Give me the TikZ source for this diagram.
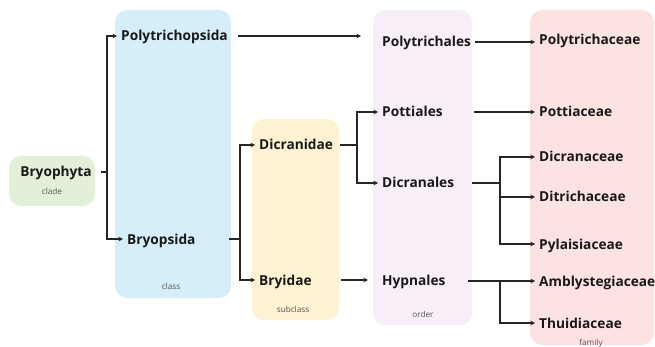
\documentclass[tikz,border=0pt]{standalone}
\usepackage{fontspec}
\setmainfont{Open Sans}
\usetikzlibrary{arrows.meta}
\definecolor{cgreen}{HTML}{E2F0D9}
\definecolor{cblue}{HTML}{D6EEF9}
\definecolor{cyellow}{HTML}{FDF2D1}
\definecolor{corder}{HTML}{F8EEF7}
\definecolor{cfam}{HTML}{FDE2E2}
\definecolor{cgrey}{HTML}{555555}
\begin{document}
\begin{tikzpicture}[x=1pt,y=-1pt,
  bg/.style={rounded corners=12pt},
  tx/.style={font=\fontsize{13.7}{16}\selectfont\bfseries, text=black!90, inner xsep=4pt, inner ysep=0pt, text height=11pt, text depth=1pt, anchor=west},
  lbl/.style={font=\fontsize{8.2}{10}\selectfont, text=cgrey, inner sep=0pt},
  ln/.style={line width=1.2pt, black!85},
  arr/.style={ln, -{Stealth[length=4.5pt,width=4.5pt]}}]
\useasboundingbox (0,0) rectangle (655,347);
% background boxes
\fill[cgreen,bg] (9,156) rectangle (95,206);
\fill[cblue,bg] (115,10) rectangle (231,298);
\fill[cyellow,bg] (252,119) rectangle (339,320);
\fill[corder,bg] (373,10) rectangle (472,325);
\fill[cfam,bg] (530,10) rectangle (654,345);
% rank labels
\node[lbl] (lclade) at (52,191) {clade};
\node[lbl] (lclass) at (171,286) {class};
\node[lbl] (lsub) at (293,309) {subclass};
\node[lbl] (lorder) at (423,314) {order};
\node[lbl] (lfam) at (591,343) {family};
% taxa
\node[tx, anchor=center] (bryophyta) at (56,172) {Bryophyta};
\node[tx] (polytrichopsida) at (117,36) {Polytrichopsida};
\node[tx] (bryopsida) at (123,239) {Bryopsida};
\node[tx] (dicranidae) at (255,145) {Dicranidae};
\node[tx] (bryidae) at (255,280) {Bryidae};
\node[tx] (polytrichales) at (378,42) {Polytrichales};
\node[tx] (pottiales) at (378,112) {Pottiales};
\node[tx] (dicranales) at (378,183) {Dicranales};
\node[tx] (hypnales) at (378,280) {Hypnales};
\node[tx] (polytrichaceae) at (535,40) {Polytrichaceae};
\node[tx] (pottiaceae) at (535,112) {Pottiaceae};
\node[tx] (dicranaceae) at (535,157) {Dicranaceae};
\node[tx] (ditrichaceae) at (535,197) {Ditrichaceae};
\node[tx] (pylaisiaceae) at (535,244) {Pylaisiaceae};
\node[tx] (amblystegiaceae) at (535,281) {Amblystegiaceae};
\node[tx] (thuidiaceae) at (535,323) {Thuidiaceae};
% trunk coordinates
\coordinate (t1) at (107,172);
\coordinate (t2) at (240,239);
\coordinate (t3) at (357,145);
\coordinate (t4) at (500,183);
\coordinate (t5) at (500,281);
% connectors
\draw[ln] ([xshift=5pt]bryophyta.east) -- (t1);
\draw[arr] (t1) |- (polytrichopsida.west);
\draw[arr] (t1) |- (bryopsida.west);
\draw[arr] ([xshift=6pt]polytrichopsida.east) -- ([xshift=-17pt]polytrichopsida.east -| polytrichales.west);
\draw[ln] (bryopsida.east -| 229,0) -- (t2);
\draw[arr] (bryidae.east -| 341,0) -- ([xshift=-10pt]hypnales.west);
\draw[arr] (t2) |- (dicranidae.west);
\draw[arr] (t2) |- (bryidae.west);
\draw[ln] ([xshift=3pt]dicranidae.east) -- (t3);
\draw[arr] (t3) |- (pottiales.west);
\draw[arr] (t3) |- (dicranales.west);
\draw[arr] (polytrichales.east) -- (polytrichales.east -| polytrichaceae.west);
\draw[arr] (pottiales.east -| 474,0) -- (pottiaceae.west);
\draw[ln] (dicranales.east -| 472,0) -- (t4);
\draw[arr] (t4) |- (dicranaceae.west);
\draw[arr] (t4) |- (ditrichaceae.west);
\draw[arr] (t4) |- (pylaisiaceae.west);
\draw[ln] (468,281) -- (t5);
\draw[arr] (t5) -- (amblystegiaceae.west);
\draw[arr] (t5) |- (thuidiaceae.west);
\end{tikzpicture}
\end{document}
